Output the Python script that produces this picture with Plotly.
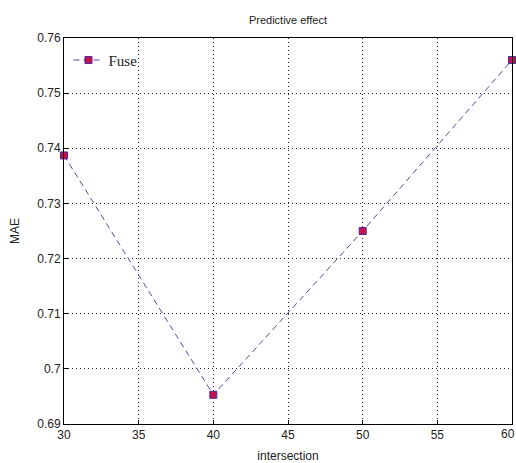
import plotly.graph_objects as go

intersection = [30, 40, 50, 60]
mae_fuse = [0.7387, 0.6953, 0.725, 0.756]
x_ticks = [30, 35, 40, 45, 50, 55, 60]
y_ticks = [0.69, 0.7, 0.71, 0.72, 0.73, 0.74, 0.75, 0.76]
y_tick_text = ["0.69", "0.7", "0.71", "0.72", "0.73", "0.74", "0.75", "0.76"]

tick_font = dict(family="Liberation Sans, Arial", size=12, color="#222")

fig = go.Figure()
fig.add_trace(go.Scatter(
    x=intersection, y=mae_fuse, mode="lines+markers", name="Fuse",
    line=dict(color="#4a4aa8", width=1, dash="6px,4px"),
    marker=dict(symbol="square", size=7, color="#c8104a",
                line=dict(color="#4a2a9a", width=1)),
    cliponaxis=False,
))

axis_common = dict(
    showline=True, linecolor="black", linewidth=1, mirror=True,
    showgrid=True, gridcolor="#222", griddash="1px,3px", gridwidth=1,
    ticks="inside", ticklen=4, tickcolor="black",
    tickfont=tick_font,
    zeroline=False, automargin=False,
)

fig.update_xaxes(range=[30, 60], tickvals=x_ticks,
                 title=dict(text="intersection", font=tick_font),
                 **axis_common)
fig.update_yaxes(range=[0.69, 0.76], tickvals=y_ticks, ticktext=y_tick_text,
                 title=dict(text="MAE", font=tick_font),
                 **axis_common)

# last x tick label (plotly drops it because it overflows the page edge)
fig.add_annotation(x=x_ticks[-1], y=0, xref="x", yref="paper",
                   text=str(x_ticks[-1]), showarrow=False,
                   xanchor="center", yanchor="top", yshift=-1, xshift=-4,
                   font=tick_font)

fig.update_layout(
    width=516, height=463,
    margin=dict(l=64, r=4, t=38, b=39),
    paper_bgcolor="white", plot_bgcolor="white",
    title=dict(text="Predictive effect", x=0.558, xanchor="center", y=0.957, yanchor="middle",
               font=dict(family="Liberation Sans, Arial", size=11, color="#222")),
    showlegend=True,
    legend=dict(x=0.01, y=0.985, xanchor="left", yanchor="top",
                bgcolor="rgba(255,255,255,0)", borderwidth=0,
                font=dict(family="Liberation Serif, Times New Roman", size=15, color="#222")),
)

fig.write_html("out.html", config={"displayModeBar": False},
               post_script="document.body.style.margin='0px';")
